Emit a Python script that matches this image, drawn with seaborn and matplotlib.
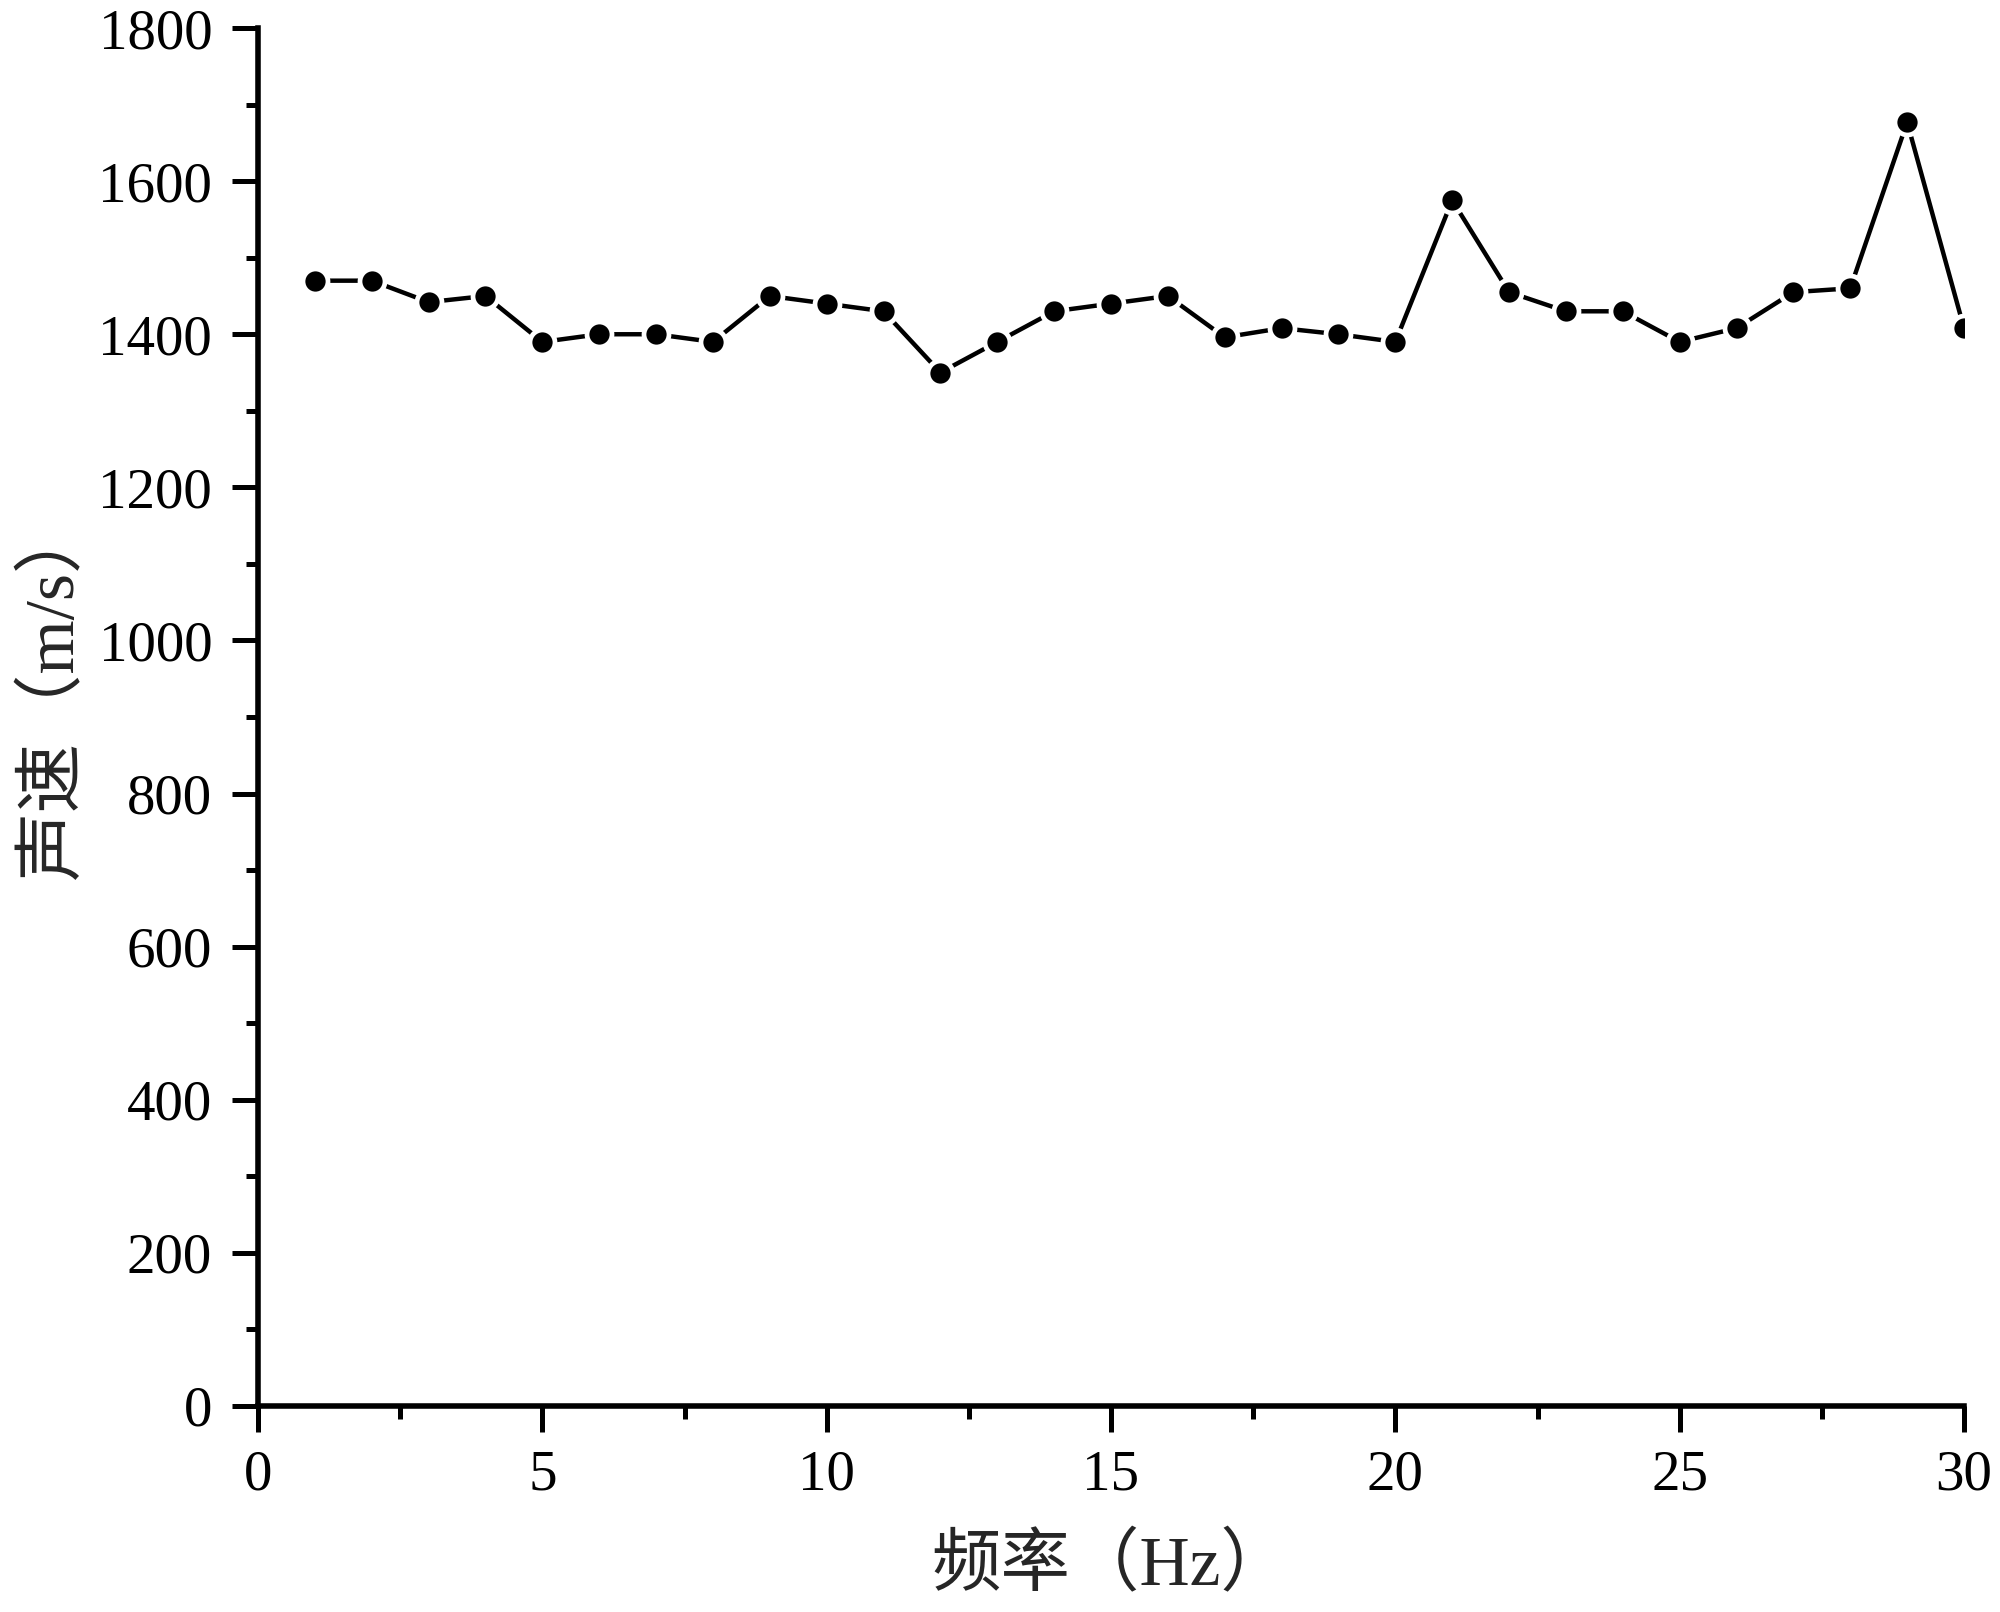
import numpy as np
import pandas as pd
import seaborn as sns
import matplotlib
matplotlib.use("Agg")
import matplotlib.pyplot as plt
from matplotlib.ticker import MultipleLocator

# Data
freq = list(range(1, 31))
speed = [1470, 1470, 1442, 1450, 1390, 1400, 1400, 1390, 1450, 1440,
         1430, 1350, 1390, 1430, 1440, 1450, 1396, 1408, 1400, 1390,
         1575, 1455, 1430, 1430, 1390, 1408, 1455, 1460, 1677, 1408]
x_ticks = [0, 5, 10, 15, 20, 25, 30]
y_ticks = [0, 200, 400, 600, 800, 1000, 1200, 1400, 1600, 1800]
x_label = "频率（Hz）"
y_label = "声速（m/s）"

df = pd.DataFrame({"freq": freq, "speed": speed})

sns.set_theme(style="ticks")
plt.rcParams["font.family"] = ["Liberation Serif", "Noto Sans CJK SC", "DejaVu Sans"]
plt.rcParams.update({
    "axes.edgecolor": "black",
    "axes.linewidth": 4,
    "xtick.color": "black",
    "ytick.color": "black",
    "xtick.direction": "out",
    "ytick.direction": "out",
    "xtick.major.size": 19,
    "ytick.major.size": 19,
    "xtick.minor.size": 9,
    "ytick.minor.size": 9,
    "xtick.major.width": 3.6,
    "ytick.major.width": 3.6,
    "xtick.minor.width": 3.6,
    "ytick.minor.width": 3.6,
    "xtick.major.pad": 12,
    "ytick.major.pad": 14,
})

fig = plt.figure(figsize=(20, 16.12), dpi=100)
ax = fig.add_axes([0.129, 0.1278, 0.853, 0.8548])

sns.lineplot(data=df, x="freq", y="speed", ax=ax, color="black",
             linewidth=3.2, marker="o", markersize=18,
             markeredgecolor="white", markeredgewidth=3.4,
             markerfacecolor="black")

ax.set_xlim(0, 30)
ax.set_ylim(0, 1800)
ax.set_xticks(x_ticks)
ax.set_yticks(y_ticks)
ax.xaxis.set_minor_locator(MultipleLocator(2.5))
ax.yaxis.set_minor_locator(MultipleLocator(100))
ax.tick_params(axis="both", which="major", labelsize=41)

ax.set_xlabel(x_label, fontsize=50, labelpad=24)
ax.set_ylabel(y_label, fontsize=50, labelpad=14)
ax.yaxis.set_label_coords(-0.1, 0.52)

sns.despine(ax=ax)
ax.grid(False)

fig.savefig("out.png", dpi=100, facecolor="white")
